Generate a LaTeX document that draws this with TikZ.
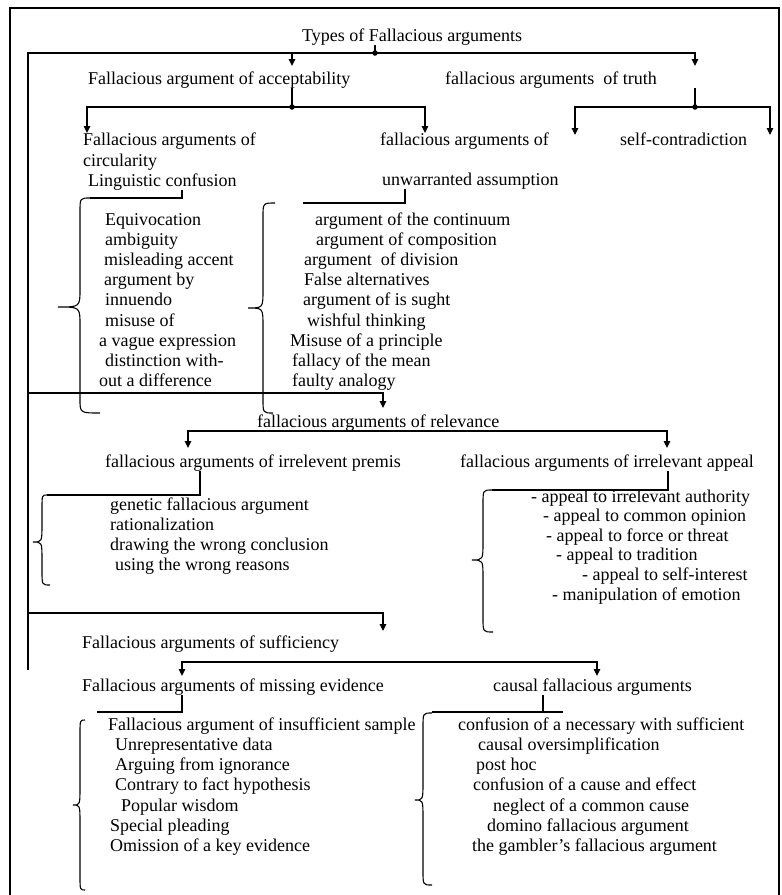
\documentclass[tikz,border=0pt]{standalone}
\usepackage{fontspec}
\setmainfont{Liberation Serif}
\usetikzlibrary{arrows.meta}
\newcommand\fallbrace[7]{% #1 top hook x, #2 top y, #3 spine x, #4 tip x, #5 tip y, #6 bottom hook x, #7 bottom y
  \draw[bracepath] (#1,#2) .. controls (#3,#2) .. (#3,#2+14) -- (#3,#5-18)
    .. controls (#3,#5) .. (#4,#5) .. controls (#3,#5) .. (#3,#5+18)
    -- (#3,#7-14) .. controls (#3,#7) .. (#6,#7);}
\tikzset{
  lbl/.style={font=\fontsize{18}{20}\selectfont, inner sep=0pt, anchor=base west},
  conn/.style={line width=1.3pt},
  arr/.style={conn, -{Triangle[width=6.5pt,length=7pt]}},
  arrboth/.style={conn, {Triangle[width=6.5pt,length=7pt]}-{Triangle[width=6.5pt,length=7pt]}},
  bracepath/.style={line width=1.1pt},
  frame/.style={line width=1.7pt},
  jdot/.style={circle, fill, inner sep=0pt, minimum size=5.5pt}
}
\begin{document}
\begin{tikzpicture}[x=1pt,y=-1pt]
\useasboundingbox (0,0) rectangle (782,895);
% frame
\draw[frame] (10,895) -- (10,8) -- (779,8) -- (779,895);

% headings
\node[lbl] (title) at (302,41) {Types of Fallacious arguments};
\node[lbl] (acc) at (88,84) {Fallacious argument of acceptability};
\node[lbl] (truth) at (445,84) {fallacious arguments\ \ of truth};
\node[lbl] (circ1) at (83,145) {Fallacious arguments of};
\node[lbl] (circ2) at (83,166) {circularity};
\node[lbl] (ling) at (88,186) {Linguistic confusion};
\node[lbl] (unw1) at (380,145) {fallacious arguments of};
\node[lbl] (unw2) at (382,185) {unwarranted assumption};
\node[lbl] (self) at (620,145) {self-contradiction};
\node[lbl] (rel) at (257,427) {fallacious arguments of relevance};
\node[lbl] (prem) at (105,467) {fallacious arguments of irrelevent premis};
\node[lbl] (appeal) at (460,467) {fallacious arguments of irrelevant appeal};
\node[lbl] (suff) at (82,648) {Fallacious arguments of sufficiency};
\node[lbl] (miss) at (82,691) {Fallacious arguments of missing evidence};
\node[lbl] (causal) at (493,691) {causal fallacious arguments};

% lists
\foreach \xx/\txt [count=\i] in {105/Equivocation, 105/ambiguity, 104/misleading accent,
  104/argument by, 105/innuendo, 105/misuse of, 99/a vague expression,
  105/distinction with-, 99/out a difference}
  \node[lbl] (lc\i) at (\xx,225+20.2*\i-20.2) {\txt};
\foreach \xx/\txt [count=\i] in {315/argument of the continuum, 316/argument of composition,
  304/argument\ \ of division, 304/False alternatives, 303/argument of is sught,
  307/wishful thinking, 290/Misuse of a principle, 292/fallacy of the mean, 292/faulty analogy}
  \node[lbl] (ua\i) at (\xx,225+20.2*\i-20.2) {\txt};
\foreach \xx/\txt [count=\i] in {110/genetic fallacious argument, 110/rationalization,
  110/drawing the wrong conclusion, 115/using the wrong reasons}
  \node[lbl] (ip\i) at (\xx,510+20*\i-20) {\txt};
\foreach \xx/\txt [count=\i] in {531/- appeal to irrelevant authority, 543/- appeal to common opinion,
  546/- appeal to force or threat, 556/- appeal to tradition, 582/- appeal to self-interest,
  552/- manipulation of emotion}
  \node[lbl] (ia\i) at (\xx,502+19.6*\i-19.6) {\txt};
\foreach \xx/\txt [count=\i] in {108/Fallacious argument of insufficient sample, 115/Unrepresentative data,
  115/Arguing from ignorance, 115/Contrary to fact hypothesis, 121/Popular wisdom,
  110/Special pleading, 110/Omission of a key evidence}
  \node[lbl] (me\i) at (\xx,730+20.3*\i-20.3) {\txt};
\foreach \xx/\txt [count=\i] in {458/confusion of a necessary with sufficient, 478/causal oversimplification,
  476/post hoc, 473/confusion of a cause and effect, 493/neglect of a common cause,
  487/domino fallacious argument, 472/the gambler's fallacious argument}
  \node[lbl] (ca\i) at (\xx,730+20.3*\i-20.3) {\txt};

% top level connectors
\coordinate (t0) at (375,53);
\coordinate (sp0) at (28,53);
\coordinate (sp1) at (28,670);
\coordinate (a1) at (292,53);
\coordinate (a1e) at (292,66);
\coordinate (a2) at (695,53);
\coordinate (a2e) at (695,66);
\draw[conn] (title.south -| t0) -- (t0);
\draw[arr] (sp1) -- (sp0) -- (a2) -- (a2e);
\draw[arr] (a1) -- (a1e);
\node[jdot] (t0dot) at (t0) {};

% acceptability
\coordinate (accj) at (292,107);
\coordinate (accl) at (87,107);
\coordinate (accle) at (87,133);
\coordinate (accr) at (425,107);
\coordinate (accre) at (425,133);
\draw[conn] (acc.south -| accj) -- (accj);
\draw[arrboth] (accle) -- (accl) -- (accr) -- (accre);
\node[jdot] (accdot) at (accj) {};

% truth
\coordinate (trj) at (695,107);
\coordinate (trl) at (575,107);
\coordinate (trle) at (575,135);
\coordinate (trr) at (770,107);
\coordinate (trre) at (770,135);
\draw[conn] (truth.south -| trj) -- (trj);
\draw[arrboth] (trle) -- (trl) -- (trr) -- (trre);
\node[jdot] (trdot) at (trj) {};

% linguistic confusion
\coordinate (lj) at (182,198);
\coordinate (b1top) at (90,198);
\draw[conn] (ling.south -| lj) -- (lj) -- (b1top);
\fallbrace{90}{198}{80}{58}{307}{100}{413}

% unwarranted assumption
\coordinate (uj) at (405,203);
\coordinate (ul) at (303,203);
\draw[conn] (unw2.south -| uj) -- (uj) -- (ul);
\fallbrace{275}{203}{263}{248}{308}{273}{413}

% relevance
\coordinate (r0) at (28,393);
\coordinate (r1) at (383,393);
\coordinate (r1e) at (383,408);
\draw[arr] (r0) -- (r1) -- (r1e);
\coordinate (rl) at (188,431);
\coordinate (rle) at (188,448);
\coordinate (rr) at (667,431);
\coordinate (rre) at (667,448);
\draw[arrboth] (rle) -- (rl) -- (rr) -- (rre);

% irrelevant premis
\coordinate (pj) at (200,495);
\coordinate (b3top) at (47,495);
\draw[conn] (prem.south -| pj) -- (pj) -- (b3top);
\fallbrace{47}{495}{42}{33}{542}{50}{585}

% irrelevant appeal
\coordinate (aj) at (668,490);
\coordinate (b4top) at (492,490);
\draw[conn] (appeal.south -| aj) -- (aj) -- (b4top);
\fallbrace{492}{490}{483}{472}{560}{493}{632}

% sufficiency
\coordinate (s0) at (28,613);
\coordinate (s1) at (383,613);
\coordinate (s1e) at (383,631);
\draw[arr] (s0) -- (s1) -- (s1e);
\coordinate (sl) at (182,662);
\coordinate (sle) at (182,676);
\coordinate (sr) at (597,662);
\coordinate (sre) at (597,676);
\draw[arrboth] (sle) -- (sl) -- (sr) -- (sre);

% missing evidence
\coordinate (mj) at (182,712);
\coordinate (ml) at (97,712);
\draw[conn] (miss.south -| mj) -- (mj) -- (ml);
\fallbrace{85}{720}{80}{73}{805}{85}{890}

% causal
\coordinate (cj) at (543,712);
\coordinate (cl) at (432,712);
\coordinate (cr) at (563,712);
\draw[conn] (causal.south -| cj) -- (cj);
\draw[conn] (cl) -- (cr);
\fallbrace{432}{713}{423}{415}{800}{432}{885}
\end{tikzpicture}
\end{document}
